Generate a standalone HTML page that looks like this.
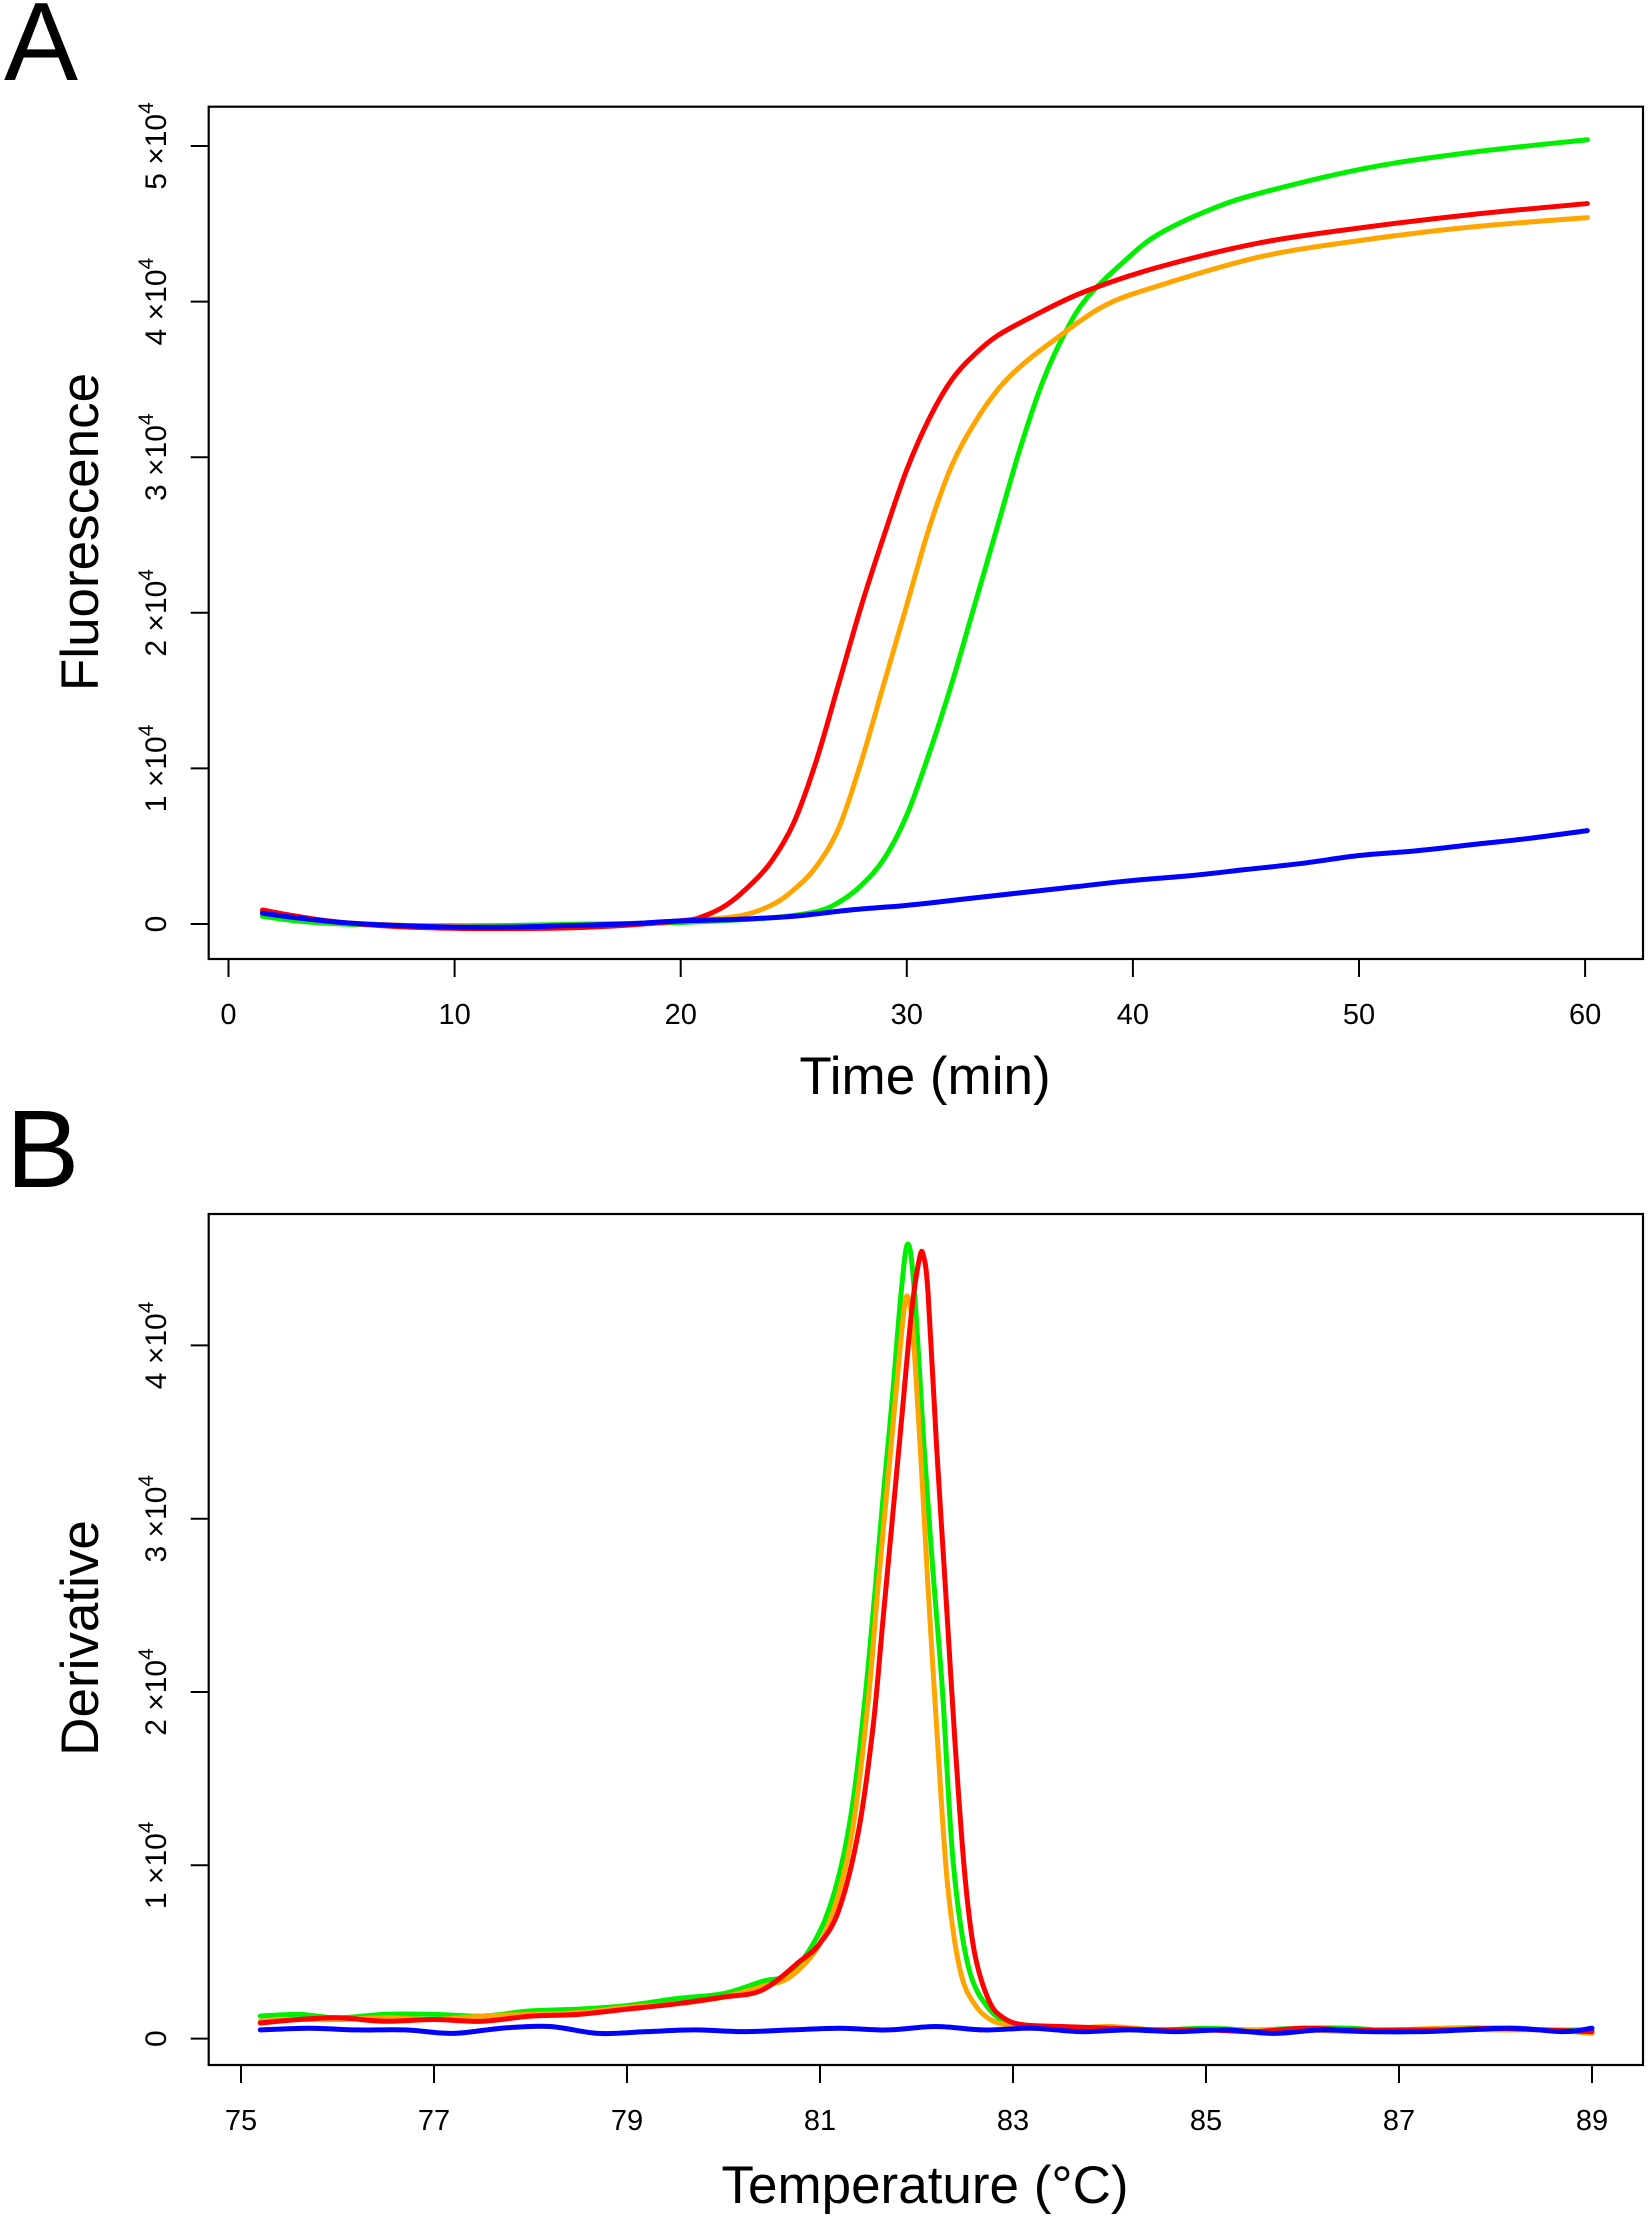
<!DOCTYPE html>
<html><head><meta charset="utf-8">
<style>
html,body{margin:0;padding:0;background:#fff;}
svg{display:block;font-family:"Liberation Sans",Arial,sans-serif;}
</style></head>
<body>
<svg id="fig" width="1648" height="2230" viewBox="0 0 1648 2230" xmlns="http://www.w3.org/2000/svg">
<text x="4" y="80" font-size="111">A</text>
<text x="6" y="1187" font-size="110">B</text>
<g id="pa"></g>
<g id="pb"></g>
</svg>
<script>
// ---- Panel A data (fluorescence in units of 1e4, time in min) ----
const aTicksX = [0,10,20,30,40,50,60];
const aTicksY = [0,1,2,3,4,5];
const aRedT   = [1.5,3,5,8,12,16,20,21,22,23,24,25,26,27,28,29,30,31,32,33,34,35.5,37.8,41.1,45.7,50.4,55,60.1];
const aRedV   = [0.09,0.05,0.01,-0.02,-0.03,-0.02,0.02,0.05,0.12,0.24,0.4,0.65,1.05,1.55,2.05,2.5,2.92,3.25,3.5,3.66,3.78,3.9,4.06,4.22,4.38,4.48,4.56,4.63];
const aOrT    = [1.5,3,5,8,12,16,20,22.5,24,25,26,27,28,29,30,31,32,33,34,35,36.4,38.7,41.1,45.7,50.4,55,60.1];
const aOrV    = [0.08,0.04,0.01,-0.01,-0.02,-0.01,0.02,0.05,0.12,0.22,0.37,0.62,1.05,1.55,2.05,2.55,2.95,3.22,3.43,3.58,3.74,3.97,4.1,4.29,4.4,4.48,4.54];
const aGrT    = [1.5,3,5,8,12,16,20,24,26,27,28,29,30,31,32,33,34,35,36,37,38,39.7,41.1,43.4,45.7,50.4,55,60.1];
const aGrV    = [0.05,0.02,0.0,-0.01,-0.01,0.0,0.01,0.04,0.08,0.14,0.25,0.42,0.7,1.1,1.55,2.05,2.55,3.05,3.48,3.8,4.03,4.27,4.43,4.59,4.7,4.86,4.96,5.04];
const aBlT    = [1.5,3,5,7.5,10,12.5,15,17.5,20,22.5,25,27.5,30,32.5,35,37.5,40,42.5,45,47.5,50,52.5,55,57.5,60.1];
const aBlV    = [0.07,0.04,0.01,-0.01,-0.02,-0.02,-0.01,0.0,0.02,0.03,0.05,0.09,0.12,0.16,0.2,0.24,0.28,0.31,0.35,0.39,0.44,0.47,0.51,0.55,0.6];

// ---- Panel B data (derivative in units of 1e4, temperature in °C) ----
const bTicksX = [75,77,79,81,83,85,87,89];
const bTicksY = [0,1,2,3,4];
const bGrT = [75.2,75.6,76,76.5,77,77.5,78,78.5,79,79.5,80,80.4,80.7,81,81.2,81.35,81.5,81.65,81.75,81.84,81.91,81.98,82.08,82.17,82.27,82.38,82.54,82.77,83.0,83.3,83.6,84,84.5,85,85.5,86,86.5,87,87.5,88,88.5,89];
const bGrV = [0.13,0.14,0.12,0.14,0.14,0.13,0.16,0.17,0.19,0.23,0.26,0.33,0.38,0.62,0.95,1.4,2.15,3.1,3.7,4.3,4.585,4.3,3.4,2.7,2.0,1.02,0.41,0.16,0.09,0.07,0.06,0.06,0.05,0.06,0.05,0.06,0.06,0.04,0.06,0.06,0.05,0.05];
const bOrT = [75.2,75.6,76,76.5,77,77.5,78,78.5,79,79.5,80,80.4,80.7,81,81.2,81.35,81.5,81.6,81.7,81.8,81.87,81.91,81.96,82.04,82.12,82.22,82.32,82.45,82.6,82.8,83.1,83.6,84,84.5,85,85.5,86,86.5,87,87.5,88,88.5,89];
const bOrV = [0.10,0.11,0.11,0.12,0.11,0.13,0.14,0.15,0.18,0.2,0.24,0.3,0.36,0.55,0.85,1.25,1.95,2.6,3.2,3.8,4.2,4.28,4.1,3.4,2.6,1.7,0.9,0.4,0.2,0.1,0.07,0.06,0.07,0.05,0.05,0.05,0.05,0.04,0.05,0.06,0.05,0.05,0.03];
const bRdT = [75.2,75.6,76,76.5,77,77.5,78,78.5,79,79.5,80,80.4,80.8,81,81.2,81.4,81.55,81.65,81.75,81.85,81.95,82.03,82.07,82.12,82.21,82.3,82.4,82.5,82.6,82.75,82.9,83.1,83.5,84,84.5,85,85.5,86,86.5,87,87.5,88,88.5,89];
const bRdV = [0.09,0.11,0.12,0.1,0.11,0.1,0.13,0.14,0.17,0.2,0.24,0.28,0.45,0.55,0.75,1.2,1.8,2.4,3.0,3.6,4.2,4.5,4.52,4.3,3.4,2.6,1.7,0.95,0.5,0.22,0.12,0.08,0.07,0.06,0.05,0.05,0.04,0.06,0.05,0.05,0.05,0.06,0.05,0.04];
const bBlT = [75.2,75.7,76.2,76.7,77.2,77.7,78.2,78.7,79.2,79.7,80.2,80.7,81.2,81.7,82.2,82.7,83.2,83.7,84.2,84.7,85.2,85.7,86.2,86.7,87.2,87.7,88.2,88.7,89];
const bBlV = [0.05,0.06,0.05,0.05,0.03,0.06,0.07,0.03,0.04,0.05,0.04,0.05,0.06,0.05,0.07,0.05,0.06,0.04,0.05,0.04,0.05,0.03,0.05,0.04,0.04,0.05,0.06,0.04,0.06];

const NS = "http://www.w3.org/2000/svg";
function mk(tag, attrs, parent){
  const e = document.createElementNS(NS, tag);
  for (const k in attrs) e.setAttribute(k, attrs[k]);
  parent.appendChild(e);
  return e;
}
function smoothPath(pts){
  let d = "M"+pts[0][0].toFixed(2)+","+pts[0][1].toFixed(2);
  for (let i=0;i<pts.length-1;i++){
    const p0=pts[Math.max(0,i-1)], p1=pts[i], p2=pts[i+1], p3=pts[Math.min(pts.length-1,i+2)];
    const c1x=p1[0]+(p2[0]-p0[0])/6, c1y=p1[1]+(p2[1]-p0[1])/6;
    const c2x=p2[0]-(p3[0]-p1[0])/6, c2y=p2[1]-(p3[1]-p1[1])/6;
    d += " C"+c1x.toFixed(2)+","+c1y.toFixed(2)+" "+c2x.toFixed(2)+","+c2y.toFixed(2)+" "+p2[0].toFixed(2)+","+p2[1].toFixed(2);
  }
  return d;
}

function panel(g, cfg){
  const sx = v => cfg.x0px + (v - cfg.x0) * cfg.xpu;
  const sy = v => cfg.y0px - v * cfg.ypu;
  const box = mk("rect",{x:cfg.L,y:cfg.T,width:cfg.R-cfg.L,height:cfg.B-cfg.T,fill:"none",stroke:"#000","stroke-width":2.2},g);
  
  
  const xa = mk("g",{},g);
  
  
  mk("line",{x1:sx(cfg.xt[0]),x2:sx(cfg.xt[cfg.xt.length-1]),y1:cfg.B,y2:cfg.B,stroke:"#000","stroke-width":2},xa);
  cfg.xt.forEach(t=>{
    mk("line",{x1:sx(t),x2:sx(t),y1:cfg.B,y2:cfg.B+18,stroke:"#000","stroke-width":2},xa);
    const tx = mk("text",{x:sx(t),y:cfg.B+65,"font-size":29,"text-anchor":"middle"},xa);
    tx.textContent = t;
    
    
  });
  const ya = mk("g",{},g);
  
  
  cfg.yt.forEach(t=>{
    const y = sy(t);
    mk("line",{x1:cfg.L-18,x2:cfg.L,y1:y,y2:y,stroke:"#000","stroke-width":2},ya);
    const tx = mk("text",{x:0,y:0,"font-size":30,"text-anchor":"middle",transform:"translate(166,"+y+") rotate(-90)"},ya);
    
    
    if (t===0){ tx.textContent = "0"; }
    else {
      const a = mk("tspan",{},tx); a.textContent = t+" \u00d710";
      const s = mk("tspan",{dy:-13,"font-size":21}, tx); s.textContent = "4";
    }
  });
  const xt = mk("text",{x:cfg.xtx,y:cfg.xty,"font-size":53,"text-anchor":"middle"},g);
  xt.textContent = cfg.xtitle;
  
  
  const yt = mk("text",{x:0,y:0,"font-size":53,"text-anchor":"middle",transform:"translate(98,"+cfg.yty+") rotate(-90)"},g);
  yt.textContent = cfg.ytitle;
  
  
  cfg.series.forEach(s=>{
    const pts = s.t.map((t,i)=>[sx(t), sy(s.v[i])]);
    const p = mk("path",{d:smoothPath(pts),fill:"none",stroke:s.c,"stroke-width":5,"stroke-linejoin":"round","stroke-linecap":"round"},g);
    
    
  });
}

panel(document.getElementById("pa"),{
  L:208.7,R:1643,T:106.7,B:959,
  x0:0,x0px:228.5,xpu:22.61,y0px:924,ypu:155.6,
  xt:aTicksX, yt:aTicksY,
  xtitle:"Time (min)", xtx:925, xty:1094,
  ytitle:"Fluorescence", yty:532,
  series:[
    {t:aGrT,v:aGrV,c:"#00ee00",name:"series-green"},
    {t:aOrT,v:aOrV,c:"#ffa500",name:"series-orange"},
    {t:aRedT,v:aRedV,c:"#ff0000",name:"series-red"},
    {t:aBlT,v:aBlV,c:"#0000ff",name:"series-blue"}
  ]
});
panel(document.getElementById("pb"),{
  L:208.7,R:1643,T:1214,B:2065,
  x0:75,x0px:241,xpu:96.5,y0px:2038.6,ypu:173.3,
  xt:bTicksX, yt:bTicksY,
  xtitle:"Temperature (\u00b0C)", xtx:925, xty:2203,
  ytitle:"Derivative", yty:1638,
  series:[
    {t:bGrT,v:bGrV,c:"#00ee00",name:"melt-green"},
    {t:bOrT,v:bOrV,c:"#ffa500",name:"melt-orange"},
    {t:bRdT,v:bRdV,c:"#ff0000",name:"melt-red"},
    {t:bBlT,v:bBlV,c:"#0000ff",name:"melt-blue"}
  ]
});
</script>
</body></html>
